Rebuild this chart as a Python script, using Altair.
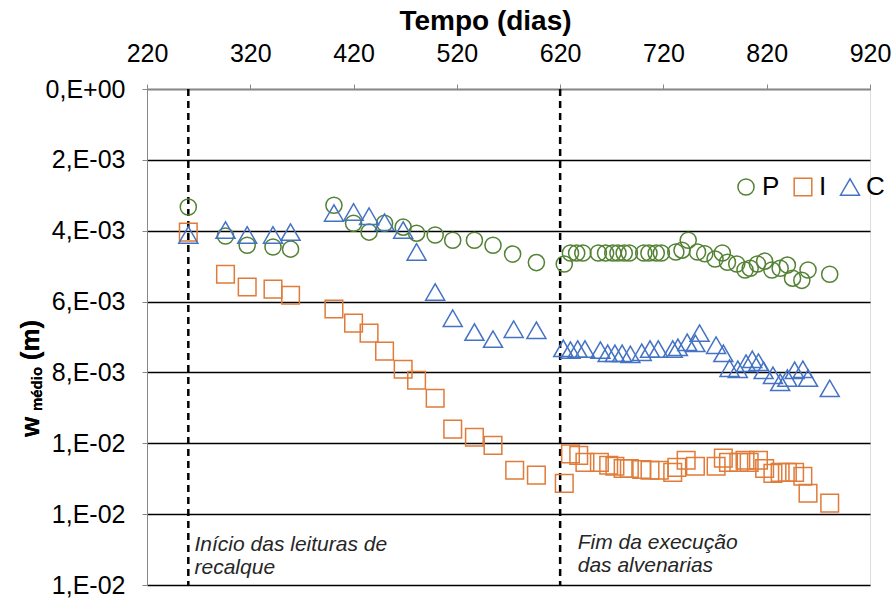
import altair as alt
import pandas as pd

series_names = ["P", "I", "C"]
series_colors = ["#548235", "#E07B39", "#4472C4"]
series_shapes = ["circle", "square", "triangle-up"]

p_days = [260, 296, 317, 342, 359, 401, 420, 435, 450, 468, 481, 499, 516, 537, 555, 574, 597,
          624, 630, 636, 642, 657, 664, 671, 676, 682, 687, 701, 706, 713, 718, 732, 738, 744,
          753, 760, 770, 777, 782, 791, 799, 804, 811, 818, 825, 833, 840, 845, 854, 860, 881]
p_vals = [3.33, 4.15, 4.41, 4.46, 4.52, 3.28, 3.79, 4.04, 3.79, 3.90, 4.07, 4.12, 4.27, 4.27, 4.41, 4.66, 4.90,
          4.94, 4.63, 4.63, 4.63, 4.63, 4.63, 4.63, 4.63, 4.63, 4.63, 4.63, 4.63, 4.63, 4.63, 4.60, 4.55, 4.27,
          4.60, 4.65, 4.80, 4.63, 4.89, 4.94, 5.11, 5.06, 4.94, 4.86, 5.11, 5.06, 4.97, 5.34, 5.40, 5.11, 5.23]

i_days = [260, 296, 317, 342, 359, 401, 420, 435, 450, 468, 481, 499, 516, 537, 555, 576, 597,
          624, 630, 638, 644, 658, 667, 673, 681, 687, 699, 707, 716, 729, 733, 742, 751, 771, 778,
          783, 793, 799, 803, 812, 818, 826, 833, 840, 847, 855, 860, 881]
i_vals = [4.04, 5.23, 5.59, 5.65, 5.82, 6.21, 6.61, 6.89, 7.40, 7.91, 8.22, 8.73, 9.60, 9.83, 10.06, 10.76, 10.90,
          11.13, 10.30, 10.34, 10.54, 10.54, 10.62, 10.65, 10.71, 10.71, 10.74, 10.76, 10.76, 10.82, 10.68, 10.48,
          10.65, 10.65, 10.42, 10.54, 10.54, 10.48, 10.54, 10.48, 10.71, 10.85, 10.82, 10.82, 10.82, 10.93, 11.41, 11.69]

c_days = [260, 296, 317, 342, 359, 401, 420, 435, 450, 468, 481, 499, 516, 537, 555, 575, 597,
          623, 630, 637, 644, 659, 666, 673, 680, 688, 699, 707, 715, 729, 734, 743, 751, 755, 771,
          778, 784, 792, 800, 806, 812, 817, 826, 833, 840, 847, 855, 860, 881]
c_vals = [4.12, 3.98, 4.12, 4.12, 4.04, 3.50, 3.47, 3.59, 3.76, 3.98, 4.60, 5.73, 6.47, 6.86, 7.06, 6.78, 6.81,
          7.32, 7.37, 7.34, 7.34, 7.37, 7.46, 7.46, 7.46, 7.49, 7.43, 7.34, 7.34, 7.34, 7.29, 7.15, 7.18, 6.89, 7.23,
          7.46, 7.88, 7.91, 7.74, 7.63, 7.71, 7.94, 8.08, 8.28, 8.16, 7.94, 7.91, 8.16, 8.45]

x_ticks = [220, 320, 420, 520, 620, 720, 820, 920]
y_ticks = [0, 0.002, 0.004, 0.006, 0.008, 0.010, 0.012, 0.014]
y_tick_labels = ["0,E+00", "2,E-03", "4,E-03", "6,E-03", "8,E-03", "1,E-02", "1,E-02", "1,E-02"]

event_days = [260, 620]
ann_days = [266, 266, 637, 637]
ann_vals = [0.01288, 0.01353, 0.01282, 0.01347]
ann_texts = ["Início das leituras de", "recalque", "Fim da execução", "das alvenarias"]


def frame(days, vals, name):
    return pd.DataFrame({"dia": days, "w": [v / 1000 for v in vals], "serie": name})


df = pd.concat([frame(p_days, p_vals, "P"), frame(i_days, i_vals, "I"),
                frame(c_days, c_vals, "C")], ignore_index=True)
ev_df = pd.DataFrame({"dia": event_days})
ann_df = pd.DataFrame({"dia": ann_days, "w": ann_vals, "txt": ann_texts})

label_expr = ""
for v, lab in zip(y_ticks, y_tick_labels):
    label_expr += f"round(datum.value*1000)=={round(v*1000)} ? '{lab}' : "
label_expr += "''"

FONT = "Liberation Sans"
W, H = 723, 496

x_scale = alt.Scale(domain=[220, 920], nice=False, zero=False)
y_scale = alt.Scale(domain=[0, 0.014], reverse=True, nice=False, zero=False)

x_axis = alt.Axis(orient="top", values=x_ticks, title="Tempo (dias)", grid=False,
                  labelFontSize=25, titleFontSize=28, titleFontWeight="bold",
                  titlePadding=6, labelPadding=18, format="d", labelFlush=False,
                  titleX=338, titleAnchor="middle")
y_axis = alt.Axis(values=y_ticks, labelExpr=label_expr, title=None, grid=True,
                  gridColor="black", gridWidth=1.5, labelFontSize=25, labelPadding=17,
                  labelFlush=False)

leg = alt.Legend(title=None, orient="none", legendX=586, legendY=85,
                 direction="horizontal", labelFontSize=26, labelFont=FONT,
                 symbolSize=240, symbolStrokeWidth=1.5, columnPadding=10,
                 labelOffset=3, labelColor="black")

points = alt.Chart(df).mark_point(filled=False, strokeWidth=1.5, opacity=1).encode(
    x=alt.X("dia:Q", scale=x_scale, axis=x_axis),
    y=alt.Y("w:Q", scale=y_scale, axis=y_axis),
    color=alt.Color("serie:N", scale=alt.Scale(domain=series_names, range=series_colors), legend=leg),
    shape=alt.Shape("serie:N", scale=alt.Scale(domain=series_names, range=series_shapes), legend=leg),
    size=alt.Size("serie:N", scale=alt.Scale(domain=series_names, range=[260, 361, 256]), legend=None),
)

rules = alt.Chart(ev_df).mark_rule(color="black", strokeWidth=2.5, strokeDash=[7, 5]).encode(
    x=alt.X("dia:Q", scale=x_scale)
)

ann = alt.Chart(ann_df).mark_text(align="left", baseline="middle", fontStyle="italic",
                                  fontSize=21, font=FONT, color="#262626").encode(
    x=alt.X("dia:Q", scale=x_scale),
    y=alt.Y("w:Q", scale=y_scale),
    text="txt:N",
)

t_w = alt.Chart(ev_df).mark_text(text="w", angle=270, align="center", baseline="middle",
                                 fontSize=26, fontWeight="bold", font=FONT, color="black").encode(
    x=alt.value(-116), y=alt.value(338))
t_med = alt.Chart(ev_df).mark_text(text="médio", angle=270, align="center", baseline="middle",
                                   fontSize=15, fontWeight="bold", font=FONT, color="black").encode(
    x=alt.value(-110), y=alt.value(300))
t_m = alt.Chart(ev_df).mark_text(text="(m)", angle=270, align="center", baseline="middle",
                                 fontSize=26, fontWeight="bold", font=FONT, color="black").encode(
    x=alt.value(-116), y=alt.value(251))

chart = alt.layer(rules, points, ann, t_w, t_med, t_m).properties(
    width=W, height=H,
    autosize=alt.AutoSizeParams(type="none"),
    padding={"left": 147, "top": 89, "right": 25, "bottom": 18},
).configure_axis(
    labelFont=FONT, titleFont=FONT, labelColor="black", titleColor="black",
    domainColor="black", domainWidth=1.5, tickColor="black", tickWidth=1.5, tickSize=7,
).configure_view(stroke=None).configure(background="white")

chart.save("out.html", embed_options={"renderer": "svg", "actions": False})
